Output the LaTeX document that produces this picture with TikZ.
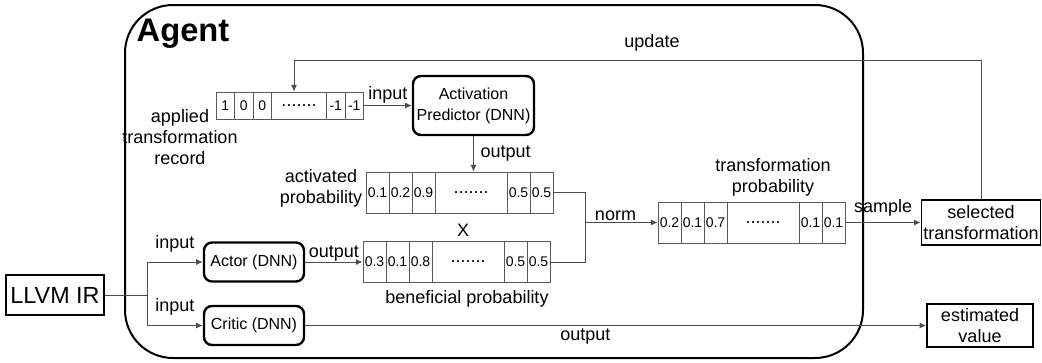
\documentclass[tikz,border=0pt]{standalone}
\usepackage{fontspec}
\setmainfont{Liberation Sans}
\usepackage{xcolor}
\usepackage{tikz}
\usetikzlibrary{positioning,shapes,arrows.meta,calc}

\newcommand{\px}{0.75pt}
\tikzset{
    lbl/.style={font=\fontsize{13.5}{15.75}\selectfont, align=center, inner sep=1pt},
    dnn/.style={draw, line width=1.8pt, rounded corners=6pt, align=center,
                font=\fontsize{12}{15.75}\selectfont, inner sep=0pt},
    plainbox/.style={draw, line width=1.2pt, align=center,
                font=\fontsize{13.5}{15.75}\selectfont, inner sep=0pt},
    cell/.style={draw=black!65, line width=0.6pt, inner sep=0pt,
                font=\fontsize{10.5}{12}\selectfont},
    rcell/.style={cell, minimum width=18.5*\px, minimum height=27*\px},
    pcell/.style={cell, minimum width=23*\px, minimum height=41*\px},
    dots/.style={font=\fontsize{13.5}{15.75}\selectfont},
    link/.style={draw=black!70, line width=0.75pt},
    arr/.style={link, -{Latex[length=5pt,width=4.5pt]}},
}

\begin{document}
\begin{tikzpicture}[x=0.75pt, y=-0.75pt]
    \useasboundingbox (0,0) rectangle (1042,362);

    % agent container
    \draw[line width=1.5pt, rounded corners=36pt] (125,5) rectangle (863,358);
    \node[font=\fontsize{24.5}{28}\selectfont\bfseries] (agent) at (183,34) {Agent};

    % applied transformation record
    \node[lbl] (reclbl) at (180,137) {applied\\transformation\\record};
    \foreach \i/\val in {0/1, 1/0, 2/0}
        \node[rcell] (rec-\i) at (225.25+\i*18.5,105.5) {\val};
    \node[rcell, dots, minimum width=55*\px] (rec-3) at (299,105.5) {.......};
    \foreach \i/\val in {4/-1, 5/-1}
        \node[rcell] (rec-\i) at ({335.75+(\i-4)*18.5},105.5) {\val};

    \node[dnn, minimum width=121*\px, minimum height=59*\px] (pred) at (473.5,105.5)
        {Activation\\Predictor (DNN)};

    % activated probability
    \node[lbl] (actlbl) at (321,188.5) {activated\\probability};
    \foreach \i/\val in {0/0.1, 1/0.2, 2/0.9}
        \node[pcell] (act-\i) at (377.5+\i*23,192.5) {\val};
    \node[pcell, dots, minimum width=72*\px] (act-3) at (471,192.5) {.......};
    \foreach \i/\val in {4/0.5, 5/0.5}
        \node[pcell] (act-\i) at ({518.5+(\i-4)*23},192.5) {\val};

    \node[lbl] (times) at (463,230) {X};

    % beneficial probability
    \foreach \i/\val in {0/0.3, 1/0.1, 2/0.8}
        \node[pcell] (ben-\i) at (374.5+\i*23,262) {\val};
    \node[pcell, dots, minimum width=72*\px] (ben-3) at (468,262) {.......};
    \foreach \i/\val in {4/0.5, 5/0.5}
        \node[pcell] (ben-\i) at ({515.5+(\i-4)*23},262) {\val};
    \node[lbl] (benlbl) at (467,299) {beneficial probability};

    % transformation probability
    \node[lbl] (tralbl) at (773,177.5) {transformation\\probability};
    \foreach \i/\val in {0/0.2, 1/0.1, 2/0.7}
        \node[pcell] (tra-\i) at (669.5+\i*23,222.5) {\val};
    \node[pcell, dots, minimum width=72*\px] (tra-3) at (763,222.5) {.......};
    \foreach \i/\val in {4/0.1, 5/0.1}
        \node[pcell] (tra-\i) at ({810.5+(\i-4)*23},222.5) {\val};

    % networks and outer boxes
    \node[draw, line width=1.5pt, minimum width=98*\px, minimum height=40*\px, inner sep=0pt,
          font=\fontsize{17.5}{20}\selectfont] (llvm) at (55,295) {LLVM IR};
    \node[dnn, minimum width=100*\px, minimum height=39*\px] (actor) at (254,262) {Actor (DNN)};
    \node[dnn, minimum width=100*\px, minimum height=39*\px] (critic) at (254,325.5) {Critic (DNN)};
    \node[plainbox, minimum width=119*\px, minimum height=45*\px] (sel) at (981,222.5)
        {selected\\transformation};
    \node[plainbox, minimum width=106*\px, minimum height=43*\px] (est) at (980,325.5)
        {estimated\\value};

    \coordinate (split) at (147,295);
    \coordinate (join) at (585,222.5);
    \coordinate (upd) at (294,60);

    % connectors
    \draw[link] (llvm.east) -- (split);
    \draw[arr] (split) |- node[lbl, above=6pt, pos=0.75] (in-actor) {input} (actor.west);
    \draw[arr] (split) |- node[lbl, above=6pt, pos=0.75] (in-critic) {input} (critic.west);
    \draw[arr] (rec-5.east) -- node[lbl, above] (in-pred) {input} (pred.west);
    \draw[arr] (pred.south) -- node[lbl, right=4pt] (out-pred) {output} (pred.south |- act-3.north);
    \draw[arr] (actor.east) -- node[lbl, above=-1pt] (out-actor) {output} (ben-0.west);
    \draw[link] (act-5.east) -| (join);
    \draw[link] (ben-5.east) -| (join);
    \draw[arr] (join) -- node[lbl, above, pos=0.42] (norm) {norm} (tra-0.west);
    \draw[arr] (tra-5.east) -- node[lbl, above=3pt] (samp) {sample} (sel.west);
    \draw[arr] (sel.north) |- (upd) -- (upd |- rec-3.north);
    \node[lbl] (updlbl) at (652,43) {update};
    \draw[arr] (critic.east) -- node[lbl, below=1pt, pos=0.451] (out-critic) {output} (est.west);
\end{tikzpicture}
\end{document}
